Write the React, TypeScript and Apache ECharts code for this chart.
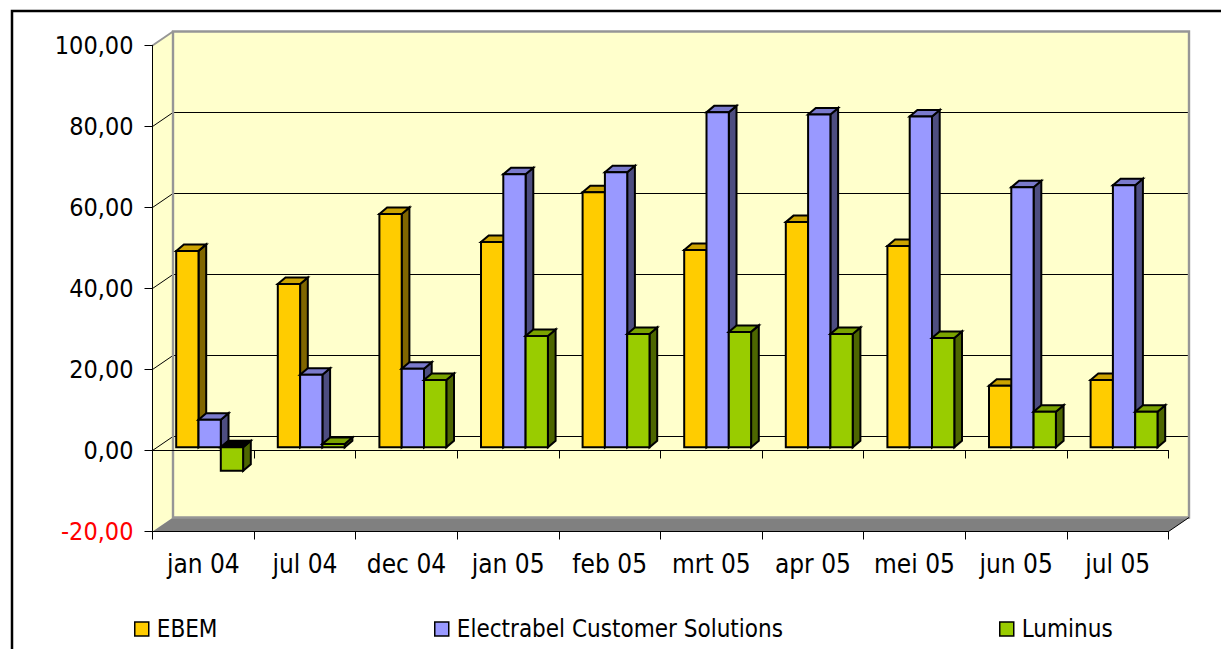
import React, { useEffect, useRef } from "react";
import * as echarts from "echarts";

const categories = ["jan 04", "jul 04", "dec 04", "jan 05", "feb 05", "mrt 05", "apr 05", "mei 05", "jun 05", "jul 05"];
const ebem = [48.5, 40.3, 57.6, 50.7, 63.0, 48.7, 55.6, 49.7, 15.2, 16.6];
const electrabel = [6.8, 17.9, 19.4, 67.4, 67.9, 82.7, 82.2, 81.7, 64.2, 64.7];
const luminus = [-5.8, 0.8, 16.6, 27.5, 28.0, 28.5, 28.0, 27.0, 8.8, 8.8];
const yTicks = [-20, 0, 20, 40, 60, 80, 100];

const FONT = "'DejaVu Sans Condensed', 'DejaVu Sans'";
const WALL_DX = 20.5;
const WALL_DY = -14;
const BAR_DX = 7.7;
const BAR_DY = -6.5;
const BAR_SHIFT_Y = 3.2;
const BAR_START = 23.7;
const BAR_W = 22.3;

function wallsRender(_params: any, api: any) {
  const band = api.size([1, 0])[0];
  const left = api.coord([0, 0])[0] - band / 2;
  const right = left + band * categories.length;
  const yOf = (v: number) => api.coord([0, v])[1];
  const top = yOf(100);
  const bottom = yOf(-20);
  const gray = "#969696";
  const children: any[] = [
    {
      type: "polygon",
      shape: { points: [[left, top], [left + WALL_DX, top + WALL_DY], [left + WALL_DX, bottom + WALL_DY], [left, bottom]] },
      style: { fill: "#FFFFCC", stroke: "none" },
    },
    {
      type: "rect",
      shape: { x: left + WALL_DX, y: top + WALL_DY, width: right - left, height: bottom - top },
      style: { fill: "#FFFFCC", stroke: "none" },
    },
    {
      type: "polygon",
      shape: { points: [[left, bottom], [right, bottom], [right + WALL_DX, bottom + WALL_DY], [left + WALL_DX, bottom + WALL_DY]] },
      style: { fill: "#808080", stroke: "none" },
    },
  ];
  yTicks
    .filter((t) => t > -20 && t < 100)
    .forEach((t) => {
      const y = yOf(t);
      children.push({
        type: "polyline",
        shape: { points: [[left, y], [left + WALL_DX, y + WALL_DY], [right + WALL_DX, y + WALL_DY]] },
        style: { stroke: "#000", lineWidth: 1, fill: "none" },
      });
    });
  children.push(
    {
      type: "rect",
      shape: { x: left + WALL_DX, y: top + WALL_DY, width: right - left, height: bottom - top },
      style: { fill: "none", stroke: gray, lineWidth: 2.4 },
    },
    {
      type: "line",
      shape: { x1: left, y1: top, x2: left + WALL_DX, y2: top + WALL_DY },
      style: { stroke: gray, lineWidth: 2 },
    },
    {
      type: "line",
      shape: { x1: right, y1: bottom, x2: right + WALL_DX, y2: bottom + WALL_DY },
      style: { stroke: "#000", lineWidth: 1 },
    }
  );
  return { type: "group", children };
}

function makeBarSeries(name: string, values: number[], slot: number, front: string, topFace: string, side: string) {
  return {
    name,
    type: "custom",
    coordinateSystem: "cartesian2d",
    xAxisIndex: 0,
    yAxisIndex: 0,
    z: 3,
    clip: false,
    silent: true,
    itemStyle: { color: front },
    encode: { x: 0, y: 1 },
    data: values.map((v, i) => [i, v]),
    renderItem: (_params: any, api: any) => {
      const cat = api.value(0);
      const v = api.value(1);
      const band = api.size([1, 0])[0];
      const x = api.coord([cat, 0])[0] - band / 2 + BAR_START + slot * BAR_W;
      const y0 = api.coord([cat, 0])[1] - BAR_SHIFT_Y;
      const yv = api.coord([cat, v])[1] - BAR_SHIFT_Y;
      const yt = Math.min(y0, yv);
      const yb = Math.max(y0, yv);
      const line = { stroke: "#000", lineWidth: 2, lineJoin: "miter" };
      return {
        type: "group",
        children: [
          {
            type: "polygon",
            shape: { points: [[x + BAR_W, yt], [x + BAR_W + BAR_DX, yt + BAR_DY], [x + BAR_W + BAR_DX, yb + BAR_DY], [x + BAR_W, yb]] },
            style: { fill: side, ...line },
          },
          {
            type: "polygon",
            shape: { points: [[x, yt], [x + BAR_W, yt], [x + BAR_W + BAR_DX, yt + BAR_DY], [x + BAR_DX, yt + BAR_DY]] },
            style: { fill: v < 0 ? "#000" : topFace, ...line },
          },
          {
            type: "rect",
            shape: { x, y: yt, width: BAR_W, height: yb - yt },
            style: { fill: front, ...line },
          },
        ],
      };
    },
  };
}

function legendFor(name: string, left: number) {
  return {
    data: [{ name, icon: "rect" }],
    left,
    top: 617,
    orient: "horizontal",
    selectedMode: false,
    itemWidth: 14,
    itemHeight: 14,
    itemStyle: { borderColor: "#000", borderWidth: 1.5 },
    padding: 0,
    textStyle: { fontFamily: FONT, fontSize: 24, color: "#000", padding: [0, 0, 0, 3] },
  };
}

export default function App() {
  const ref = useRef<HTMLDivElement>(null);
  useEffect(() => {
    document.body.style.margin = "0";
    document.body.style.background = "#fff";
    const chart = echarts.init(ref.current!, undefined, { renderer: "svg" });
    const axisLineStyle = { color: "#000", width: 1 };
    chart.setOption({
      animation: false,
      backgroundColor: "#fff",
      grid: { left: 152.5, top: 45.5, width: 1016, height: 486, containLabel: false },
      xAxis: [
        {
          type: "category",
          data: categories,
          position: "bottom",
          z: 2,
          axisLine: { onZero: false, lineStyle: axisLineStyle },
          axisTick: { show: true, length: 8, lineStyle: axisLineStyle },
          axisLabel: { interval: 0, margin: 19, fontFamily: FONT, fontSize: 26, color: "#000", hideOverlap: false },
          splitLine: { show: false },
        },
        {
          type: "category",
          data: categories,
          position: "top",
          z: 2,
          axisLine: { onZero: true, lineStyle: axisLineStyle },
          axisTick: { show: true, inside: true, length: 8, lineStyle: axisLineStyle },
          axisLabel: { show: false },
          splitLine: { show: false },
        },
      ],
      yAxis: {
        type: "value",
        min: -20,
        max: 100,
        interval: 20,
        z: 2,
        axisLine: { show: true, lineStyle: axisLineStyle },
        axisTick: { show: true, length: 8, lineStyle: axisLineStyle },
        axisLabel: {
          margin: 19,
          fontFamily: FONT,
          fontSize: 25,
          color: (v: any) => (Number(v) < 0 ? "#FF0000" : "#000"),
          formatter: (v: number) => v.toFixed(2).replace(".", ","),
        },
        splitLine: { show: false },
      },
      legend: [legendFor("EBEM", 134), legendFor("Electrabel Customer Solutions", 434), legendFor("Luminus", 999)],
      graphic: [
        {
          type: "rect",
          shape: { x: 12, y: 11, width: 1300, height: 700 },
          style: { fill: "none", stroke: "#000", lineWidth: 2.5 },
          silent: true,
          z: 10,
        },
      ],
      series: [
        {
          name: "walls",
          type: "custom",
          coordinateSystem: "cartesian2d",
          xAxisIndex: 0,
          yAxisIndex: 0,
          z: 1,
          clip: false,
          silent: true,
          encode: { x: 0, y: 1 },
          data: [[0, 0]],
          renderItem: wallsRender,
        },
        makeBarSeries("EBEM", ebem, 0, "#FFCC00", "#CCA300", "#806600"),
        makeBarSeries("Electrabel Customer Solutions", electrabel, 1, "#9999FF", "#7A7ACC", "#4D4D80"),
        makeBarSeries("Luminus", luminus, 2, "#99CC00", "#7AA300", "#4D6600"),
      ],
    });
    return () => chart.dispose();
  }, []);
  return <div ref={ref} style={{ width: 1221, height: 649 }} />;
}
